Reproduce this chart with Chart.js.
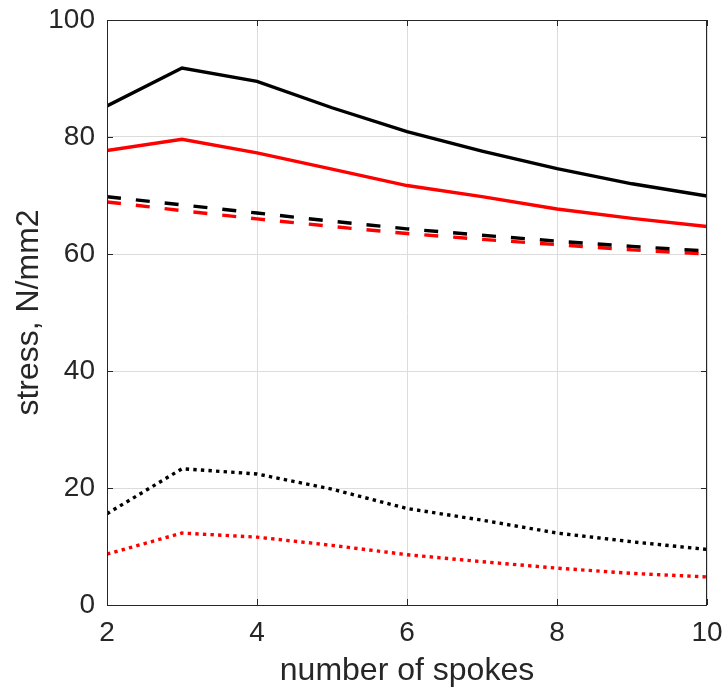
<!DOCTYPE html>
<html lang="en">
<head>
    <meta charset="UTF-8">
    <title>Stress vs number of spokes</title>
    <script src="https://cdn.jsdelivr.net/npm/chart.js"></script>
    <style>
        body { margin: 0; background: #fff; }
        #grafico { display: block; }
    </style>
</head>
<body>
    <canvas id="grafico" width="724" height="692"></canvas>

    <script>
        // data
        let spokes = [2, 3, 4, 5, 6, 7, 8, 9, 10];
        let solidBlack  = [85.3, 91.8, 89.5, 85.0, 80.9, 77.6, 74.6, 72.0, 69.9];
        let solidRed    = [77.7, 79.6, 77.3, 74.5, 71.7, 69.8, 67.7, 66.1, 64.7];
        let dashedBlack = [69.8, 68.4, 67.0, 65.6, 64.3, 63.2, 62.2, 61.3, 60.5];
        let dashedRed   = [68.9, 67.4, 66.0, 64.7, 63.5, 62.5, 61.6, 60.7, 60.0];
        let dottedBlack = [15.6, 23.3, 22.4, 19.8, 16.5, 14.5, 12.3, 10.8, 9.5];
        let dottedRed   = [8.7, 12.3, 11.6, 10.2, 8.6, 7.4, 6.3, 5.4, 4.8];
        let xTicks = [2, 4, 6, 8, 10];
        let yTicks = [0, 20, 40, 60, 80, 100];

        const axisColor = '#262626';
        const font = '"Liberation Sans", Arial, sans-serif';

        function serie(vals, color, dash) {
            return {
                data: vals.map((v, i) => ({ x: spokes[i], y: v })),
                borderColor: color,
                borderWidth: 3.4,
                borderDash: dash,
                borderCapStyle: 'butt',
                pointRadius: 0,
                fill: false,
                tension: 0
            };
        }

        // box round the plot with inward ticks, like a matlab axes
        const caja = {
            id: 'caja',
            afterDatasetsDraw(chart) {
                const { ctx, chartArea: a, scales } = chart;
                ctx.save();
                ctx.strokeStyle = axisColor;
                ctx.lineWidth = 1;
                ctx.strokeRect(a.left + 0.5, a.top + 0.5, a.right - a.left - 1, a.bottom - a.top);
                ctx.beginPath();
                xTicks.forEach(t => {
                    const px = Math.round(scales.x.getPixelForValue(t)) + 0.5;
                    ctx.moveTo(px, a.bottom); ctx.lineTo(px, a.bottom - 6);
                    ctx.moveTo(px, a.top); ctx.lineTo(px, a.top + 6);
                });
                yTicks.forEach(t => {
                    const py = Math.round(scales.y.getPixelForValue(t)) + 0.5;
                    ctx.moveTo(a.left, py); ctx.lineTo(a.left + 6, py);
                    ctx.moveTo(a.right, py); ctx.lineTo(a.right - 6, py);
                });
                ctx.stroke();
                ctx.restore();
            }
        };

        let ctx = document.getElementById('grafico').getContext('2d');
        let chart = new Chart(ctx, {
            type: 'line',
            data: {
                datasets: [
                    serie(solidBlack, '#000000', []),
                    serie(solidRed, '#ff0000', []),
                    serie(dashedBlack, '#000000', [14, 15]),
                    serie(dashedRed, '#ff0000', [14, 15]),
                    serie(dottedBlack, '#000000', [3.4, 4.2]),
                    serie(dottedRed, '#ff0000', [3.4, 4.2])
                ]
            },
            options: {
                responsive: false,
                animation: false,
                devicePixelRatio: 1,
                layout: { padding: { top: 20, right: 17, left: 0, bottom: 0 } },
                plugins: { legend: { display: false }, tooltip: { enabled: false } },
                scales: {
                    x: {
                        type: 'linear',
                        min: 2, max: 10,
                        afterBuildTicks: s => { s.ticks = xTicks.map(v => ({ value: v })); },
                        afterFit: s => { s.height = 87; s.paddingLeft = 0; s.paddingRight = 0; },
                        ticks: { color: axisColor, font: { family: font, size: 28 }, padding: 11, maxRotation: 0 },
                        grid: { color: '#dcdcdc', drawTicks: false },
                        border: { display: false },
                        title: {
                            display: true, text: 'number of spokes', color: axisColor,
                            font: { family: font, size: 32 }, padding: { top: 0, bottom: 2 }
                        }
                    },
                    y: {
                        min: 0, max: 100,
                        afterBuildTicks: s => { s.ticks = yTicks.map(v => ({ value: v })); },
                        afterFit: s => { s.width = 107; s.paddingTop = 0; s.paddingBottom = 0; },
                        ticks: { color: axisColor, font: { family: font, size: 28 }, padding: 12 },
                        grid: { color: '#dcdcdc', drawTicks: false },
                        border: { display: false },
                        title: {
                            display: true, text: 'stress, N/mm2', color: axisColor,
                            font: { family: font, size: 32 }, padding: { top: 10, bottom: 0 }
                        }
                    }
                }
            },
            plugins: [caja]
        });
    </script>
</body>
</html>
